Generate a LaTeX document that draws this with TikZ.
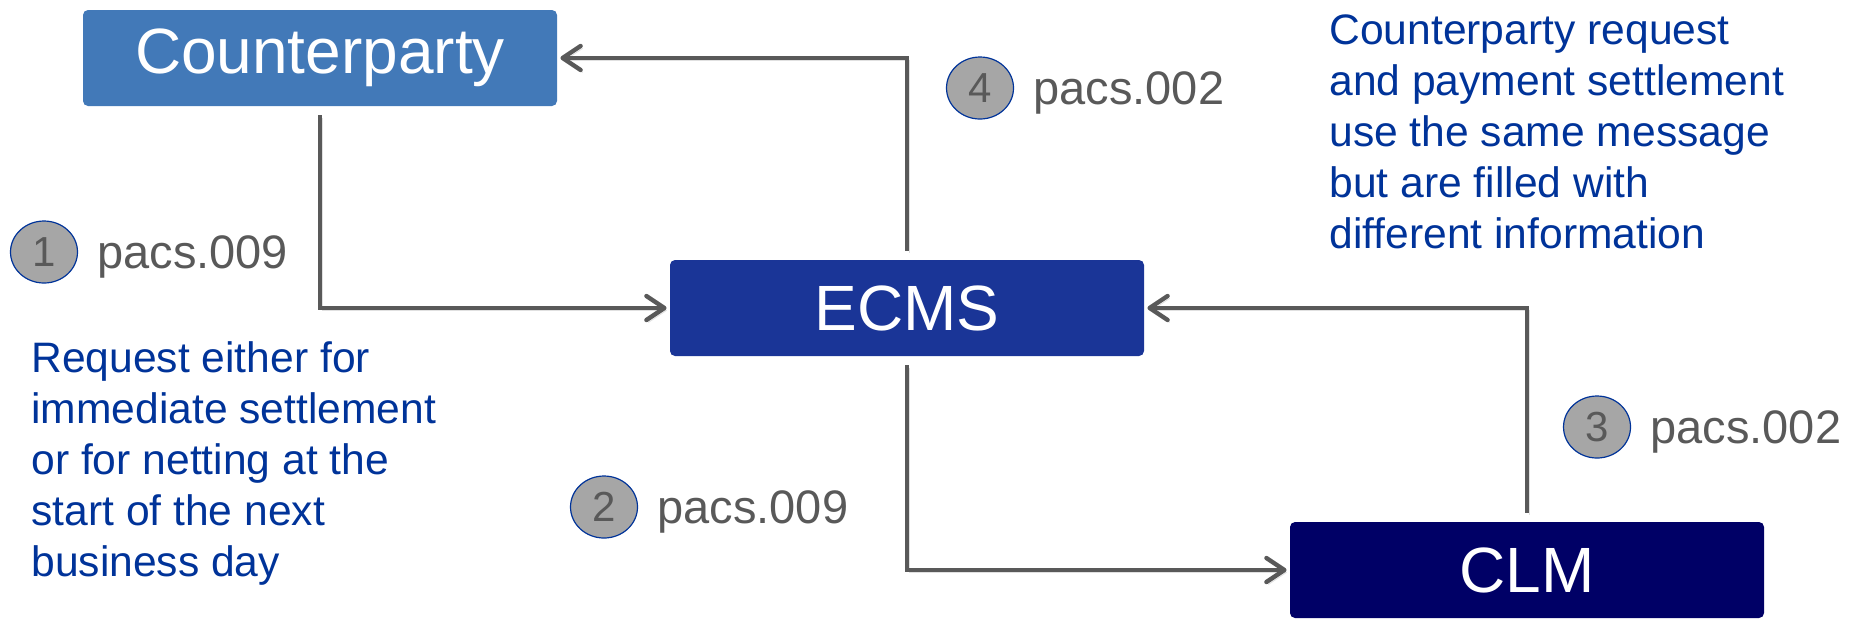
\documentclass[tikz,border=0pt]{standalone}
\usepackage{fontspec}
\setmainfont{Liberation Sans}
\usetikzlibrary{arrows.meta,shapes.geometric}

\definecolor{cpblue}{HTML}{4279B8}
\definecolor{ecmsblue}{HTML}{1A3597}
\definecolor{clmblue}{HTML}{000066}
\definecolor{linegray}{HTML}{595959}
\definecolor{dotgray}{HTML}{A6A6A6}
\definecolor{notetext}{HTML}{003399}

\tikzset{
	sysbox/.style={rounded corners=2.5pt, minimum width=237pt, minimum height=48pt, inner sep=0pt,
		text=white, font=\fontsize{32}{36}\selectfont},
	flow/.style={draw=linegray, line width=2.2pt, -{Straight Barb[length=9pt,width=12pt,round]},
		shorten <=4.5pt, shorten >=1.5pt,
		preaction={draw=black!12, transform canvas={shift={(1pt,-1.2pt)}}}},
	stepdot/.style={ellipse, draw=notetext, line width=0.6pt, fill=dotgray, minimum width=33.5pt,
		minimum height=31pt, inner sep=0pt, text=linegray, font=\fontsize{21}{24}\selectfont},
	msg/.style={anchor=base west, inner sep=0pt, text=linegray, font=\fontsize{23.5}{27}\selectfont},
	note/.style={anchor=north west, align=left, inner sep=0pt, text=notetext,
		font=\fontsize{21.3}{25.5}\selectfont}
}

\begin{document}
\begin{tikzpicture}[x=0.5pt, y=-0.5pt]
		
		\useasboundingbox (0,0) rectangle (1850,618);
		
		\node[sysbox, fill=cpblue] (cp) at (320,58) {Counterparty};
		\node[sysbox, fill=ecmsblue] (ecms) at (907,308) {ECMS};
		\node[sysbox, fill=clmblue] (clm) at (1527,570) {CLM};
		
		\draw[flow] (cp.south) |- (ecms.west);
		\draw[flow] (ecms.south) |- (clm.west);
		\draw[flow] (clm.north) |- (ecms.east);
		\draw[flow] (ecms.north) |- (cp.east);
		
		\foreach \n/\x/\y/\m in {1/44/252/pacs.009, 2/604/507/pacs.009, 3/1597/427/pacs.002, 4/980/88/pacs.002}
		{
			\node[stepdot] (dot\n) at (\x,\y) {\n};
			\node[msg] (msg\n) at (\x+53,\y+16) {\m};
		}
		
		\node[note] (leftnote) at (31,341) {Request either for\\immediate settlement\\or for netting at the\\start of the next\\business day};
		\node[note] (rightnote) at (1329,14) {Counterparty request\\and payment settlement\\use the same message\\but are filled with\\different information};
		
		\end{tikzpicture}
\end{document}
